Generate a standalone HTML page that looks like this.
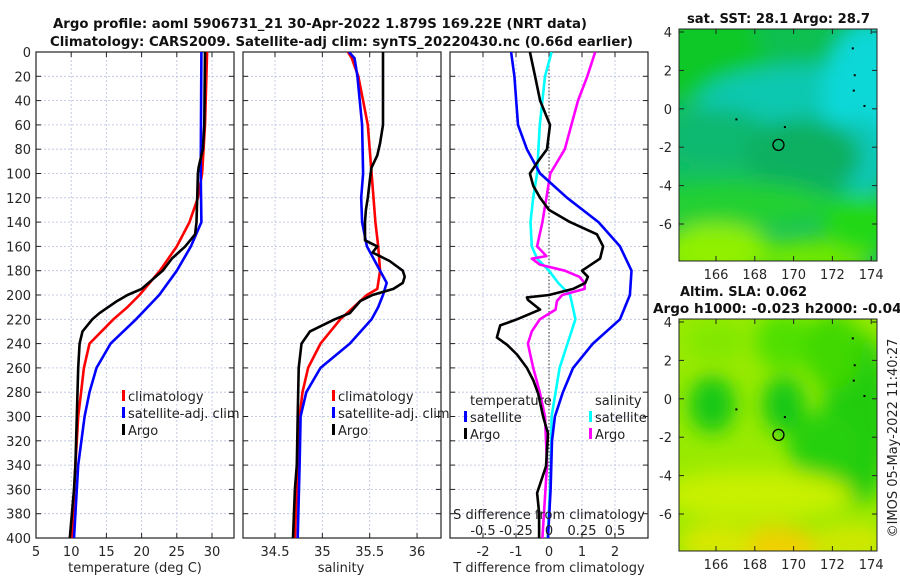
<!DOCTYPE html>
<html><head><meta charset="utf-8"><style>
html,body{margin:0;padding:0;background:#fff;}
svg{display:block;font-family:"DejaVu Sans","Liberation Sans",sans-serif;}
</style></head><body>
<svg id="chart" width="900" height="580" viewBox="0 0 900 580" xmlns="http://www.w3.org/2000/svg">
<defs>
<filter id="blur1" x="-50%" y="-50%" width="200%" height="200%"><feGaussianBlur stdDeviation="10"/></filter>
<clipPath id="clipMap1"><rect x="679" y="29" width="198" height="232"/></clipPath>
<clipPath id="clipMap2"><rect x="679" y="319" width="198" height="232"/></clipPath>
<clipPath id="clipP1"><rect x="36" y="52" width="198" height="486"/></clipPath>
<clipPath id="clipP2"><rect x="243" y="52" width="198" height="486"/></clipPath>
<clipPath id="clipP3"><rect x="450" y="52" width="198" height="486"/></clipPath>
</defs>
<g font-weight="bold" font-size="13" fill="#111">
<text x="53" y="28" textLength="534" lengthAdjust="spacingAndGlyphs">Argo profile: aoml 5906731_21 30-Apr-2022 1.879S 169.22E (NRT data)</text>
<text x="50" y="46" textLength="583" lengthAdjust="spacingAndGlyphs">Climatology: CARS2009. Satellite-adj clim: synTS_20220430.nc (0.66d earlier)</text>
</g>
<g id="plots"></g>
</svg>
<script>
// ---- data (depth in m) ----
const depthTicks = [0,20,40,60,80,100,120,140,160,180,200,220,240,260,280,300,320,340,360,380,400];
const tempTicks = [5,10,15,20,25,30];
const salTicks = [34.5,35,35.5,36];
const salTickLabels = ["34.5","35","35.5","36"];
const tdiffTicks = [-2,-1,0,1,2];
const sdiffTicks = [-0.5,-0.25,0,0.25,0.5];
const sdiffTickLabels = ["-0.5","-0.25","0","0.25","0.5"];

const tClimDepth = [0,20,60,100,120,140,160,180,200,210,220,240,260,280,300,340,400];
const tClimVal   = [29.3,29.2,29.0,28.6,28.0,26.8,25.0,22.6,19.7,18.0,16.0,12.6,11.8,11.4,11.0,10.6,10.1];
const tSatDepth  = [0,100,140,160,180,200,220,240,260,280,300,340,400];
const tSatVal    = [28.5,28.4,28.5,27.0,25.0,22.5,19.2,15.6,13.6,12.6,11.9,11.0,10.4];
const tArgoDepth = [0,60,80,95,100,140,150,160,170,180,195,200,205,215,220,230,240,260,300,340,360,400];
const tArgoVal   = [29.0,28.9,28.7,28.1,28.0,27.8,27.6,26.2,24.3,23.0,20.0,18.0,16.5,14.0,13.0,11.6,11.2,11.0,10.8,10.6,10.4,9.8];

const sClimDepth = [0,5,20,40,60,100,140,160,180,195,200,220,240,260,280,300,340,400];
const sClimVal   = [35.27,35.31,35.38,35.43,35.48,35.52,35.56,35.59,35.61,35.58,35.47,35.19,34.98,34.85,34.79,34.76,34.74,34.71];
const sSatDepth  = [0,5,20,60,100,120,140,160,180,190,200,210,220,240,260,280,300,340,400];
const sSatVal    = [35.28,35.34,35.37,35.42,35.43,35.41,35.42,35.47,35.61,35.68,35.64,35.59,35.52,35.29,34.98,34.83,34.77,34.76,34.74];
const sArgoDepth = [0,60,75,85,95,100,120,130,140,155,160,165,172,180,185,190,195,200,205,215,220,230,240,260,300,340,360,400];
const sArgoVal   = [35.64,35.64,35.61,35.58,35.52,35.51,35.48,35.46,35.45,35.45,35.58,35.53,35.71,35.85,35.87,35.85,35.75,35.53,35.40,35.29,35.13,34.87,34.78,34.75,34.74,34.73,34.71,34.69];

const dTSatDepth = [0,20,60,80,100,120,140,160,180,200,220,240,260,280,300,320,360,400];
const dTSatVal   = [-1.15,-1.05,-0.94,-0.67,-0.27,0.55,1.5,2.15,2.5,2.45,2.15,1.33,0.73,0.42,0.18,0.09,0.05,-0.03];
const dTArgoDepth = [0,20,40,60,80,90,100,110,120,130,140,150,160,170,180,185,190,195,200,202,204,212,220,225,235,241,249,260,270,281,300,314,341,363,379,400];
const dTArgoVal   = [-0.58,-0.42,-0.27,0.03,-0.06,-0.33,-0.58,-0.48,-0.27,0.0,0.64,1.45,1.64,1.55,1.0,1.18,1.1,0.73,0.0,-0.67,-0.64,-0.27,-0.97,-1.48,-1.58,-1.27,-0.97,-0.67,-0.48,-0.33,-0.18,-0.03,-0.09,-0.36,-0.3,-0.3];
const dSSatDepth = [0,20,40,60,80,100,120,140,160,170,180,190,200,210,220,240,260,280,300,340,400];
const dSSatVal   = [0.02,-0.03,-0.05,-0.07,-0.08,-0.09,-0.12,-0.14,-0.13,-0.09,0.0,0.07,0.16,0.18,0.2,0.14,0.08,0.05,0.02,0.015,-0.01];
const dSArgoDepth = [0,20,40,60,80,100,120,140,160,168,170,175,180,185,190,195,200,205,212,220,230,240,260,280,300,340,400];
const dSArgoVal   = [0.35,0.29,0.22,0.17,0.12,0.01,-0.02,-0.05,-0.09,-0.02,-0.13,-0.07,0.12,0.23,0.27,0.27,0.1,0.06,0.05,-0.07,-0.13,-0.16,-0.12,-0.07,-0.03,-0.015,-0.05];

const latTicks = [4,2,0,-2,-4,-6];
const lonTicks = [166,168,170,172,174];
const argoLon = 169.22, argoLat = -1.879;

// ---- axes ----
const NS = 'http://www.w3.org/2000/svg';
const root = document.getElementById('plots');
function yDepth(d){ return 52 + d * 486/400; }
function xTemp(t){ return 36 + (t-5)*7.04; }
function xSal(s){ return 275 + (s-34.5)*94.7; }
function xTd(v){ return 549 + v*33; }
function xSd(v){ return 549 + v*132; }
function mk(tag, attrs, parent){ const e=document.createElementNS(NS,tag); for(const k in attrs) e.setAttribute(k,attrs[k]); (parent||root).appendChild(e); return e; }
function txt(x,y,s,attrs,parent){ const e=mk('text',Object.assign({x:x,y:y},attrs||{}),parent); e.textContent=s; return e; }

function panel(x0, name, xTicks, xfn, xLabels, showY){
  const g = mk('g',{});
  
  
  depthTicks.forEach(d=>{ if(d>0&&d<400){ const l=mk('line',{x1:x0,x2:x0+198,y1:yDepth(d),y2:yDepth(d),stroke:'#b8bfe0','stroke-width':0.8,'stroke-dasharray':'2,2'},g);
      }});
  xTicks.forEach(v=>{ const x=xfn(v); if(x>x0+1&&x<x0+197){ const l=mk('line',{x1:x,x2:x,y1:52,y2:538,stroke:'#b8bfe0','stroke-width':0.8,'stroke-dasharray':'2,2'},g);
      }});
  depthTicks.forEach(d=>{ mk('line',{x1:x0,x2:x0+5,y1:yDepth(d),y2:yDepth(d),stroke:'#222'},g); mk('line',{x1:x0+193,x2:x0+198,y1:yDepth(d),y2:yDepth(d),stroke:'#222'},g);
    if(showY){ const t=txt(x0-5,yDepth(d)+5,String(d),{'font-size':13,'text-anchor':'end',fill:'#262626'},g);   } });
  xTicks.forEach((v,i)=>{ const x=xfn(v); mk('line',{x1:x,x2:x,y1:538,y2:533,stroke:'#222'},g); mk('line',{x1:x,x2:x,y1:52,y2:57,stroke:'#222'},g);
    if(xLabels){ const t=txt(x,556,xLabels[i],{'font-size':13,'text-anchor':'middle',fill:'#262626'},g);   } });
  const r=mk('rect',{x:x0,y:52,width:198,height:486,fill:'none',stroke:'#222','stroke-width':1.2},g);
   
  return g;
}
function series(depths, vals, xfn, color, name, clip, w){
  const pts = depths.map((d,i)=> xfn(vals[i]).toFixed(1)+','+yDepth(d).toFixed(1)).join(' ');
  const p = mk('polyline',{points:pts,fill:'none',stroke:color,'stroke-width':w||2.6,'stroke-linejoin':'round','clip-path':'url(#'+clip+')'});
  
  
  return p;
}
function legend(x, y, items, g){
  items.forEach((it,i)=>{
    mk('rect',{x:x-6,y:y+i*17-11,width:3,height:11,fill:it[1]},g);
    const t=txt(x,y+i*17,it[0],{'font-size':13,fill:'#222'},g);
     
  });
}

// Panel 1: temperature
panel(36,'temperature-panel',tempTicks,xTemp,tempTicks.map(String),true);
series(tClimDepth,tClimVal,xTemp,'#ff0000','temp-climatology-line','clipP1');
series(tSatDepth,tSatVal,xTemp,'#0000ff','temp-satellite-line','clipP1');
series(tArgoDepth,tArgoVal,xTemp,'#000000','temp-argo-line','clipP1');
legend(128,401,[['climatology','#ff0000'],['satellite-adj. clim','#0000ff'],['Argo','#000']],root);
const xl1=txt(135,572,'temperature (deg C)',{'font-size':13,'text-anchor':'middle',fill:'#262626'});
 

// Panel 2: salinity
panel(243,'salinity-panel',salTicks,xSal,salTickLabels,false);
series(sClimDepth,sClimVal,xSal,'#ff0000','sal-climatology-line','clipP2');
series(sSatDepth,sSatVal,xSal,'#0000ff','sal-satellite-line','clipP2');
series(sArgoDepth,sArgoVal,xSal,'#000000','sal-argo-line','clipP2');
legend(338,401,[['climatology','#ff0000'],['satellite-adj. clim','#0000ff'],['Argo','#000']],root);
const xl2=txt(341,572,'salinity',{'font-size':13,'text-anchor':'middle',fill:'#262626'});
 

// Panel 3: differences
panel(450,'difference-panel',tdiffTicks,xTd,tdiffTicks.map(String),false);
const zl=mk('line',{x1:xTd(0),x2:xTd(0),y1:52,y2:538,stroke:'#333','stroke-width':1,'stroke-dasharray':'1.5,2'});
 
series(dSSatDepth,dSSatVal,xSd,'#00ffff','sdiff-satellite-line','clipP3');
series(dSArgoDepth,dSArgoVal,xSd,'#ff00ff','sdiff-argo-line','clipP3');
series(dTSatDepth,dTSatVal,xTd,'#0000ff','tdiff-satellite-line','clipP3');
series(dTArgoDepth,dTArgoVal,xTd,'#000000','tdiff-argo-line','clipP3');
const lt1=txt(470,405,'temperature',{'font-size':13,fill:'#222'});
 
const lt2=txt(595,405,'salinity',{'font-size':13,fill:'#222'});
 
legend(470,422,[['satellite','#0000ff'],['Argo','#000']],root);
legend(595,422,[['satellite','#00ffff'],['Argo','#ff00ff']],root);
const sd=txt(549,519,'S difference from climatology',{'font-size':13,'text-anchor':'middle',fill:'#222'});
 
sdiffTicks.forEach((v,i)=>{ const t=txt(xSd(v),535,sdiffTickLabels[i],{'font-size':13,'text-anchor':'middle',fill:'#222'});   });
const xl3=txt(549,572,'T difference from climatology',{'font-size':13,'text-anchor':'middle',fill:'#262626'});
 

// Maps
function mapAxes(y0, lat4y, name, blobs, base, clip){
  const g=mk('g',{});  
  const lonX = lon => 716 + (lon-166)*19.4;
  const latY = lat => lat4y + (4-lat)*19.2;
  const bg=mk('g',{'clip-path':'url(#'+clip+')'},g);
  mk('rect',{x:679,y:y0,width:198,height:232,fill:base},bg);
  const bl=mk('g',{filter:'url(#blur1)'},bg);
  blobs.forEach(b=>mk('ellipse',{cx:lonX(b[0]),cy:latY(b[1]),rx:b[2]*19.4,ry:b[3]*19.2,fill:b[4]},bl));
  [[173.0,3.2],[173.1,1.8],[173.05,1.0],[173.6,0.2],[169.5,-0.9],[167,-0.5]].forEach(p=>mk('rect',{x:lonX(p[0]),y:latY(p[1]),width:2,height:2,fill:'#000'},bg));
  const c=mk('circle',{cx:lonX(argoLon),cy:latY(argoLat),r:5.5,fill:'none',stroke:'#000','stroke-width':1.3},g);
   
  mk('rect',{x:679,y:y0,width:198,height:232,fill:'none',stroke:'#222','stroke-width':1},g);
  latTicks.forEach(l=>{ const y=latY(l); mk('line',{x1:679,x2:684,y1:y,y2:y,stroke:'#222'},g); mk('line',{x1:872,x2:877,y1:y,y2:y,stroke:'#222'},g);
    const t=txt(672,y+5,String(l),{'font-size':13,'text-anchor':'end',fill:'#262626'},g);   });
  lonTicks.forEach(l=>{ const x=lonX(l); mk('line',{x1:x,x2:x,y1:y0+232,y2:y0+227,stroke:'#222'},g); mk('line',{x1:x,x2:x,y1:y0,y2:y0+5,stroke:'#222'},g);
    const t=txt(x,y0+250,String(l),{'font-size':13,'text-anchor':'middle',fill:'#262626'},g);   });
}
mapAxes(29,32,'sst-map',[
  [165,3.5,4,3,'#10c828'],[171,4,3,2,'#10c050'],
  [171,0.3,6,2,'#10c8b0'],[174,0.5,2.5,4,'#10d8d8'],[173.5,-2.5,1.5,2,'#10c8b8'],
  [166,-1.5,3,1.5,'#10b870'],[170.5,-2.5,3,2,'#10b060'],
  [167,-5,5,1.2,'#20d030'],[166,-7.5,3,1.5,'#90f000'],[171,-7.8,3,1,'#70e800'],[173.5,-6,2,1.5,'#20d818']
],'#12c060','clipMap1');
mapAxes(319,322,'sla-map',[
  [165.8,-0.3,1.2,1.5,'#18c818'],[169.5,-0.3,1.1,1.5,'#18c818'],[173.3,-1,1.8,4.5,'#20cc10'],[171.5,-2.5,1.8,1.8,'#28d010'],
  [169.5,3,1.5,1.5,'#50e000'],[172,2.5,1.5,2,'#40d800'],[166,3,1.5,1,'#80e800'],
  [168,-5,5,1.3,'#c8f000'],[169,-7.8,2.5,1.2,'#f0d000'],[166,-7.5,2,1,'#d8e800'],[173,-7.5,2,1,'#d0e800']
],'#98ea00','clipMap2');

const mt1=txt(687,23,'sat. SST: 28.1 Argo: 28.7',{'font-size':13,'font-weight':'bold',fill:'#111',textLength:183,lengthAdjust:'spacingAndGlyphs'});
 
const mt2=txt(680,296,'Altim. SLA: 0.062',{'font-size':13,'font-weight':'bold',fill:'#111',textLength:127,lengthAdjust:'spacingAndGlyphs'});
 
const mt3=txt(653,313,'Argo h1000: -0.023 h2000: -0.044',{'font-size':13,'font-weight':'bold',fill:'#111',textLength:258,lengthAdjust:'spacingAndGlyphs'});
 
const stamp=txt(0,0,'©IMOS 05-May-2022 11:40:27',{'font-size':13,'text-anchor':'middle',fill:'#222',transform:'translate(897,438) rotate(-90)'});
 
</script>
</body></html>
